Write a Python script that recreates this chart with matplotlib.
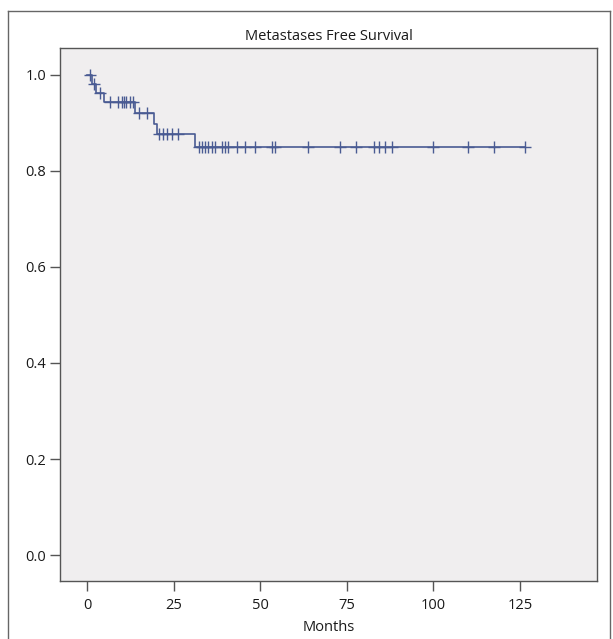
import matplotlib

matplotlib.use("Agg")
import matplotlib.pyplot as plt
import numpy as np
from matplotlib.lines import Line2D


TITLE = "Metastases Free Survival"
X_LABEL = "Months"
X_TICKS = [0, 25, 50, 75, 100, 125]
Y_TICKS = [0.0, 0.2, 0.4, 0.6, 0.8, 1.0]

# Kaplan-Meier steps (month of event, survival after the event)
EVENT_MONTHS = [1.5, 2.7, 4.9, 13.8, 19.4, 20.1, 31.2]
SURVIVAL = [0.981, 0.962, 0.943, 0.921, 0.898, 0.876, 0.850]

# censored observations (months)
CENSOR_MONTHS = [
    0.9, 2.1, 3.8, 6.6, 9.0, 10.0, 10.6, 11.2, 12.4, 13.3, 15.0, 17.3,
    20.7, 21.8, 23.0, 24.4, 26.3, 32.2, 33.1, 34.0, 35.0, 36.0, 37.0,
    38.9, 39.9, 40.6, 43.4, 45.6, 48.6, 53.4, 54.3, 63.8, 73.0, 77.6,
    82.7, 84.4, 86.1, 87.9, 99.8, 110.0, 117.5, 126.5,
]

LINE_COLOR = "#4a5b93"
PANEL_COLOR = "#f0eeef"
SPINE_COLOR = "#555555"
TEXT_COLOR = "#1a1a1a"


def _survival_at(t: float) -> float:
    # step function lookup (value right after t)
    idx = np.searchsorted(EVENT_MONTHS, t, side="right")
    if idx == 0:
        return 1.0
    return SURVIVAL[idx - 1]


def main() -> None:
    plt.rcParams["font.family"] = ["Open Sans", "DejaVu Sans"]
    fig = plt.figure(figsize=(6.13, 6.39), dpi=100)
    W, H = 613.0, 639.0
    left, right, top, bottom = 60, 597, 48, 581
    ax = fig.add_axes([left / W, 1 - bottom / H, (right - left) / W, (bottom - top) / H])
    ax.set_facecolor(PANEL_COLOR)

    end = CENSOR_MONTHS[-1]
    xs = [0.0] + EVENT_MONTHS + [end]
    ys = [1.0] + SURVIVAL + [SURVIVAL[-1]]
    ax.step(xs, ys, where="post", color=LINE_COLOR, linewidth=1.2, zorder=3)

    cy = [_survival_at(t) for t in CENSOR_MONTHS]
    ax.plot(CENSOR_MONTHS, cy, linestyle="none", marker="+", markersize=8,
            markeredgewidth=1.0, color=LINE_COLOR, zorder=4)

    ax.set_xlim(-7.8, 147.2)
    ax.set_ylim(-0.054, 1.056)
    ax.set_xticks(X_TICKS)
    ax.set_yticks(Y_TICKS)
    ax.set_yticklabels([f"{v:.1f}" for v in Y_TICKS])
    ax.tick_params(axis="both", direction="out", length=7, width=1.0,
                   color=SPINE_COLOR, labelsize=10.5, labelcolor=TEXT_COLOR, pad=3)
    ax.tick_params(axis="x", pad=5)
    for side in ("left", "right", "top", "bottom"):
        ax.spines[side].set_color(SPINE_COLOR)
        ax.spines[side].set_linewidth(1.0)

    ax.set_xlabel(X_LABEL, fontsize=10.5, color=TEXT_COLOR, labelpad=5)
    ax.set_title(TITLE, fontsize=10.5, color=TEXT_COLOR, pad=6)

    # outer frame (left, top, right)
    fx0, fx1, fy0 = 8 / W, 610 / W, 1 - 11 / H
    for xd, yd in (([fx0, fx0], [0, fy0]), ([fx0, fx1], [fy0, fy0]), ([fx1, fx1], [fy0, 0])):
        fig.add_artist(Line2D(xd, yd, transform=fig.transFigure, color="#666666", linewidth=1.0))

    fig.savefig("out.png", dpi=100, facecolor="white")
    plt.close(fig)


if __name__ == "__main__":
    main()
